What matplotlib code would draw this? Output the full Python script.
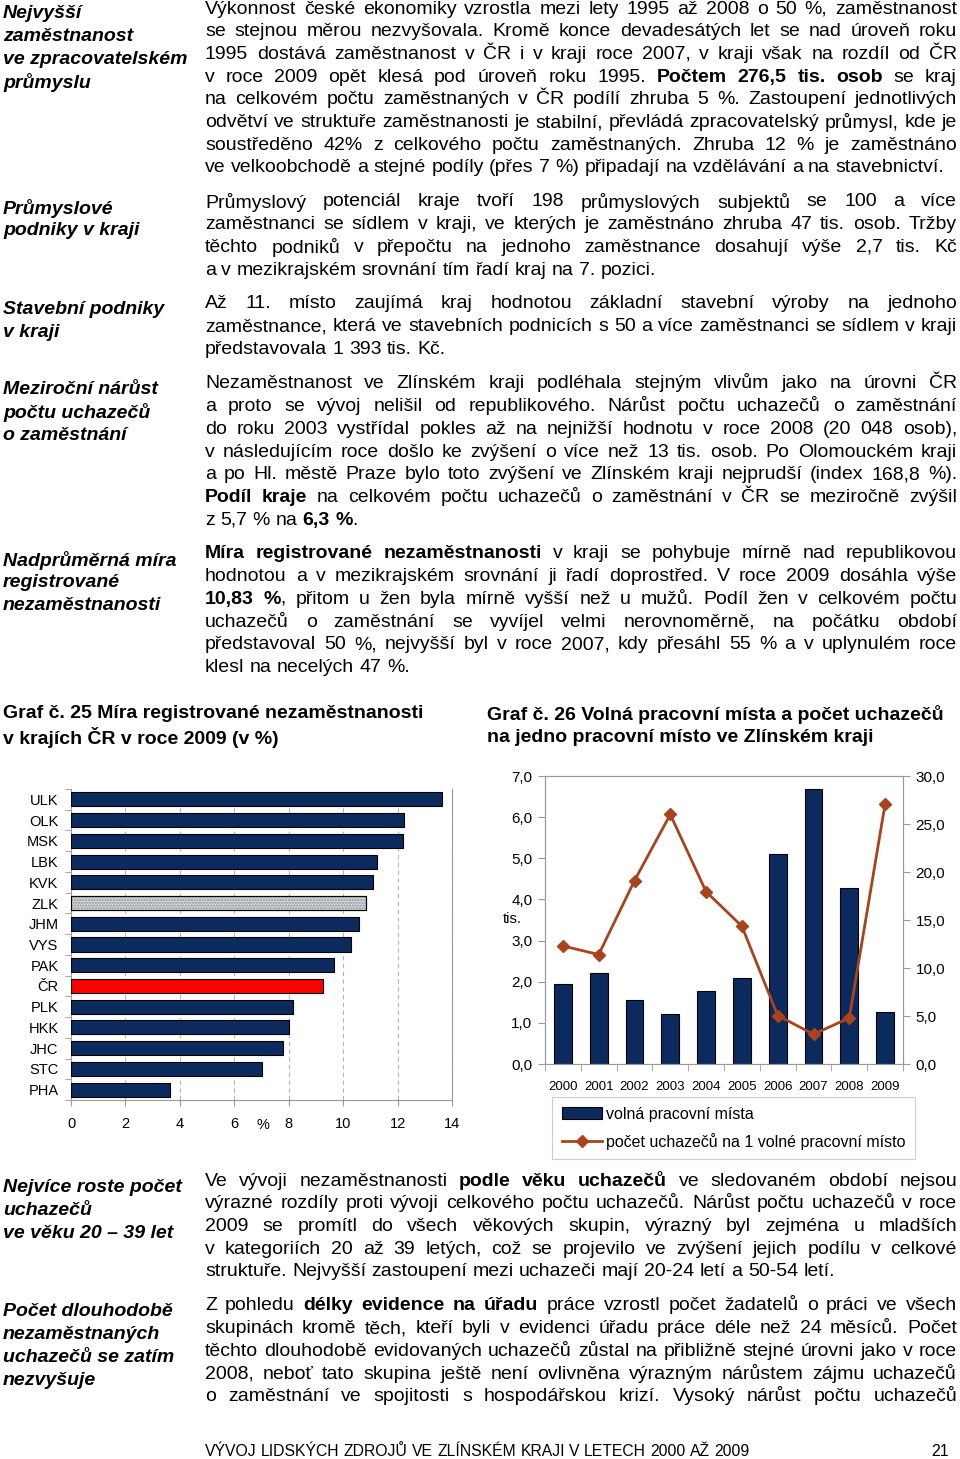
import matplotlib
matplotlib.use('Agg')
import matplotlib.pyplot as plt
from matplotlib.patches import Patch
from matplotlib.lines import Line2D
import numpy as np

# Graf č. 25 - míra registrované nezaměstnanosti 2009 (%)
kraje = ['ULK', 'OLK', 'MSK', 'LBK', 'KVK', 'ZLK', 'JHM', 'VYS', 'PAK', 'ČR',
         'PLK', 'HKK', 'JHC', 'STC', 'PHA']
mira = [13.65, 12.25, 12.2, 11.25, 11.1, 10.85, 10.6, 10.3, 9.65, 9.25,
        8.15, 8.0, 7.8, 7.0, 3.65]

# Graf č. 26 - volná místa (tis.) a uchazeči na 1 místo
roky = ['2000', '2001', '2002', '2003', '2004', '2005', '2006', '2007', '2008', '2009']
volna_mista = [1.94, 2.2, 1.55, 1.22, 1.77, 2.08, 5.1, 6.68, 4.28, 1.26]
uchazeci_na_misto = [12.3, 11.4, 19.1, 26.0, 17.95, 14.35, 5.05, 3.1, 4.8, 27.1]

W, H = 960, 1459
SANS = ['Liberation Sans', 'DejaVu Sans']
NAVY = '#0b2b5e'
RUST = '#a8431c'

fig = plt.figure(figsize=(W / 100, H / 100), dpi=100)
page = fig.add_axes([0, 0, 1, 1])
page.set_xlim(0, W)
page.set_ylim(H, 0)
page.axis('off')
renderer = fig.canvas.get_renderer()


def width_of(s, size, family, weight='normal'):
    t = page.text(0, 0, s, fontsize=size, family=family, weight=weight)
    w = t.get_window_extent(renderer).width
    t.remove()
    return w


def text_line(x0, x1, y, line, size, family=SANS, justify=True):
    # **...** marks bold words; justified lines spread the gaps to x1
    words = []
    prev = ''
    for i, part in enumerate(line.split('**')):
        bold = i % 2 == 1
        glue = bool(part) and bool(prev) and not part[0].isspace() and not prev[-1].isspace()
        for j, w in enumerate(part.split()):
            words.append((w, bold, glue and j == 0))
        if part:
            prev = part
    space = width_of('a a', size, family) - width_of('aa', size, family)
    arts = [page.text(x0, y, w, fontsize=size, family=family,
                      weight='bold' if b else 'normal', va='center', ha='left')
            for w, b, g in words]
    widths = [a.get_window_extent(renderer).width for a in arts]
    gaps = sum(1 for w in words[1:] if not w[2])
    natural = sum(widths) + gaps * space
    if natural > x1 - x0:
        f = (x1 - x0) / natural
        for a in arts:
            a.set_fontsize(size * f)
        widths = [a.get_window_extent(renderer).width for a in arts]
        space *= f
    gap = (x1 - x0 - sum(widths)) / gaps if (justify and gaps) else space
    x = x0
    for k, (a, wd) in enumerate(zip(arts, widths)):
        if k > 0 and not words[k][2]:
            x += gap
        a.set_x(x)
        x += wd


def paragraph(y0, lines, size=14, last_justified=False):
    for k, ln in enumerate(lines):
        just = last_justified or k < len(lines) - 1
        text_line(205, 957, y0 + k * 22.7, ln, size, SANS, just)


def heading(y0, lines, size=14):
    for k, ln in enumerate(lines):
        page.text(3, y0 + k * 22.8, ln, fontsize=size, family=SANS,
                  weight='bold', style='italic', va='center', ha='left')


# ---- sidebar headings ----
heading(14, ['Nejvyšší', 'zaměstnanost', 've zpracovatelském', 'průmyslu'])
heading(208, ['Průmyslové', 'podniky v kraji'])
heading(310, ['Stavební podniky', 'v kraji'])
heading(390, ['Meziroční nárůst', 'počtu uchazečů', 'o zaměstnání'])
heading(560, ['Nadprůměrná míra', 'registrované', 'nezaměstnanosti'])
heading(1188, ['Nejvíce roste počet', 'uchazečů', 've věku 20 – 39 let'])
heading(1312, ['Počet dlouhodobě', 'nezaměstnaných', 'uchazečů se zatím', 'nezvyšuje'])

# ---- body text ----
paragraph(9, [
    'Výkonnost české ekonomiky vzrostla mezi lety 1995 až 2008 o 50 %, zaměstnanost',
    'se stejnou měrou nezvyšovala. Kromě konce devadesátých let se nad úroveň roku',
    '1995 dostává zaměstnanost v ČR i v kraji roce 2007, v kraji však na rozdíl od ČR',
    'v roce 2009 opět klesá pod úroveň roku 1995. **Počtem 276,5 tis. osob** se kraj',
    'na celkovém počtu zaměstnaných v ČR podílí zhruba 5 %. Zastoupení jednotlivých',
    'odvětví ve struktuře zaměstnanosti je stabilní, převládá zpracovatelský průmysl, kde je',
    'soustředěno 42% z celkového počtu zaměstnaných. Zhruba 12 % je zaměstnáno',
    've velkoobchodě a stejné podíly (přes 7 %) připadají na vzdělávání a na stavebnictví.',
])
paragraph(202, [
    'Průmyslový potenciál kraje tvoří 198 průmyslových subjektů se 100 a více',
    'zaměstnanci se sídlem v kraji, ve kterých je zaměstnáno zhruba 47 tis. osob. Tržby',
    'těchto podniků v přepočtu na jednoho zaměstnance dosahují výše 2,7 tis. Kč',
    'a v mezikrajském srovnání tím řadí kraj na 7. pozici.',
])
paragraph(304, [
    'Až 11. místo zaujímá kraj hodnotou základní stavební výroby na jednoho',
    'zaměstnance, která ve stavebních podnicích s 50 a více zaměstnanci se sídlem v kraji',
    'představovala 1 393 tis. Kč.',
])
paragraph(384, [
    'Nezaměstnanost ve Zlínském kraji podléhala stejným vlivům jako na úrovni ČR',
    'a proto se vývoj nelišil od republikového. Nárůst počtu uchazečů o zaměstnání',
    'do roku 2003 vystřídal pokles až na nejnižší hodnotu v roce 2008 (20 048 osob),',
    'v následujícím roce došlo ke zvýšení o více než 13 tis. osob. Po Olomouckém kraji',
    'a po Hl. městě Praze bylo toto zvýšení ve Zlínském kraji nejprudší (index 168,8 %).',
    '**Podíl kraje** na celkovém počtu uchazečů o zaměstnání v ČR se meziročně zvýšil',
    'z 5,7 % na **6,3 %**.',
])
paragraph(554, [
    '**Míra registrované nezaměstnanosti** v kraji se pohybuje mírně nad republikovou',
    'hodnotou a v mezikrajském srovnání ji řadí doprostřed. V roce 2009 dosáhla výše',
    '**10,83 %**, přitom u žen byla mírně vyšší než u mužů. Podíl žen v celkovém počtu',
    'uchazečů o zaměstnání se vyvíjel velmi nerovnoměrně, na počátku období',
    'představoval 50 %, nejvyšší byl v roce 2007, kdy přesáhl 55 % a v uplynulém roce',
    'klesl na necelých 47 %.',
])
paragraph(1181, [
    'Ve vývoji nezaměstnanosti **podle věku uchazečů** ve sledovaném období nejsou',
    'výrazné rozdíly proti vývoji celkového počtu uchazečů. Nárůst počtu uchazečů v roce',
    '2009 se promítl do všech věkových skupin, výrazný byl zejména u mladších',
    'v kategoriích 20 až 39 letých, což se projevilo ve zvýšení jejich podílu v celkové',
    'struktuře. Nejvyšší zastoupení mezi uchazeči mají 20-24 letí a 50-54 letí.',
])
paragraph(1306, [
    'Z pohledu **délky evidence na úřadu** práce vzrostl počet žadatelů o práci ve všech',
    'skupinách kromě těch, kteří byli v evidenci úřadu práce déle než 24 měsíců. Počet',
    'těchto dlouhodobě evidovaných uchazečů zůstal na přibližně stejné úrovni jako v roce',
    '2008, neboť tato skupina ještě není ovlivněna výrazným nárůstem zájmu uchazečů',
    'o zaměstnání ve spojitosti s hospodářskou krizí. Vysoký nárůst počtu uchazečů',
], last_justified=True)

# ---- chart titles ----
for k, s in enumerate(['Graf č. 25 Míra registrované nezaměstnanosti',
                       'v krajích ČR v roce 2009 (v %)']):
    page.text(3, 714 + k * 23, s, fontsize=14, family=SANS, weight='bold', va='center')
for k, s in enumerate(['Graf č. 26 Volná pracovní místa a počet uchazečů',
                       'na jedno pracovní místo ve Zlínském kraji']):
    page.text(487, 714 + k * 23, s, fontsize=14, family=SANS, weight='bold', va='center')

# ---- footer ----
text_line(205, 750, 1452, 'VÝVOJ LIDSKÝCH ZDROJŮ VE ZLÍNSKÉM KRAJI V LETECH 2000 AŽ 2009',
          11.6, justify=False)
page.text(949, 1452, '21', fontsize=11.5, family=SANS, ha='right', va='center')

# ---- Graf 25 ----
GRAY = '#9a9a9a'
ax1 = fig.add_axes([71 / W, 1 - 1100 / H, 381 / W, 311 / H])
yy = np.arange(len(kraje))
cols = [NAVY] * len(kraje)
cols[kraje.index('ZLK')] = '#d3d7da'
cols[kraje.index('ČR')] = '#ff0000'
ax1.barh(yy, mira, height=0.68, color=cols, edgecolor='black', linewidth=0.8, zorder=3)
iz = kraje.index('ZLK')
ax1.barh(yy[iz], mira[iz], height=0.68, color='none', edgecolor='#8d9397',
         hatch='......', linewidth=0, zorder=4)
ax1.barh(yy[iz], mira[iz], height=0.68, color='none', edgecolor='black',
         linewidth=0.8, zorder=5)
ax1.set_xlim(0, 14)
ax1.set_ylim(len(kraje) - 0.5, -0.5)
ax1.set_xticks(range(0, 15, 2))
ax1.set_yticks(yy, kraje)
ax1.set_yticks(np.arange(-0.5, len(kraje), 1), minor=True)
ax1.tick_params(axis='y', which='major', length=0, pad=9, labelsize=10.5)
ax1.tick_params(axis='y', which='minor', length=4, color=GRAY)
ax1.tick_params(axis='x', length=4, color=GRAY, pad=8, labelsize=10.5)
for lab in ax1.get_xticklabels() + ax1.get_yticklabels():
    lab.set_family(SANS)
ax1.grid(axis='x', linestyle=(0, (4, 3)), color='#b5b5b5', linewidth=0.8, zorder=0)
ax1.spines['top'].set_visible(False)
for s in ['left', 'bottom', 'right']:
    ax1.spines[s].set_color(GRAY)
page.text(263, 1125, '%', fontsize=10.5, family=SANS, ha='center', va='center')

# ---- Graf 26 ----
ax2 = fig.add_axes([545 / W, 1 - 1064 / H, 358 / W, 288 / H])
xx = np.arange(len(roky))
ax2.bar(xx, volna_mista, width=0.5, color=NAVY, edgecolor='black', linewidth=0.8)
ax2.set_xlim(-0.5, len(roky) - 0.5)
ax2.set_ylim(0, 7)
ax2.set_yticks(range(0, 8), [f'{v},0' for v in range(0, 8)])
ax2.set_xticks(xx, roky)
ax2.set_xticks(np.arange(-0.5, len(roky), 1), minor=True)
ax2.tick_params(axis='x', which='major', length=0, pad=12, labelsize=9.5)
ax2.tick_params(axis='x', which='minor', length=5, color=GRAY)
ax2.tick_params(axis='y', length=5, color=GRAY, pad=4, labelsize=11)
ax3 = ax2.twinx()
ax3.plot(xx, uchazeci_na_misto, color=RUST, linewidth=2, marker='D', markersize=6)
ax3.set_ylim(0, 30)
ax3.set_yticks(range(0, 31, 5), [f'{v},0' for v in range(0, 31, 5)])
ax3.tick_params(axis='y', length=5, color=GRAY, pad=4, labelsize=11)
for a in (ax2, ax3):
    for s in a.spines.values():
        s.set_color(GRAY)
    for lab in a.get_xticklabels() + a.get_yticklabels():
        lab.set_family(SANS)
page.text(503, 919, 'tis.', fontsize=10.5, family=SANS, ha='left', va='center')

handles = [Patch(facecolor=NAVY, edgecolor='black', linewidth=0.8),
           Line2D([], [], color=RUST, linewidth=2, marker='D', markersize=6)]
leg = fig.legend(handles, ['volná pracovní místa', 'počet uchazečů na 1 volné pracovní místo'],
                 loc='upper left', bbox_to_anchor=(552 / W, 1 - 1097 / H),
                 frameon=True, fancybox=False, edgecolor='#c0c0c0',
                 prop={'family': SANS, 'size': 11.5}, handlelength=2.5,
                 borderpad=0.6, labelspacing=0.7, handletextpad=0.3, borderaxespad=0)
leg.get_frame().set_linewidth(0.8)

fig.savefig('out.png', dpi=100)
